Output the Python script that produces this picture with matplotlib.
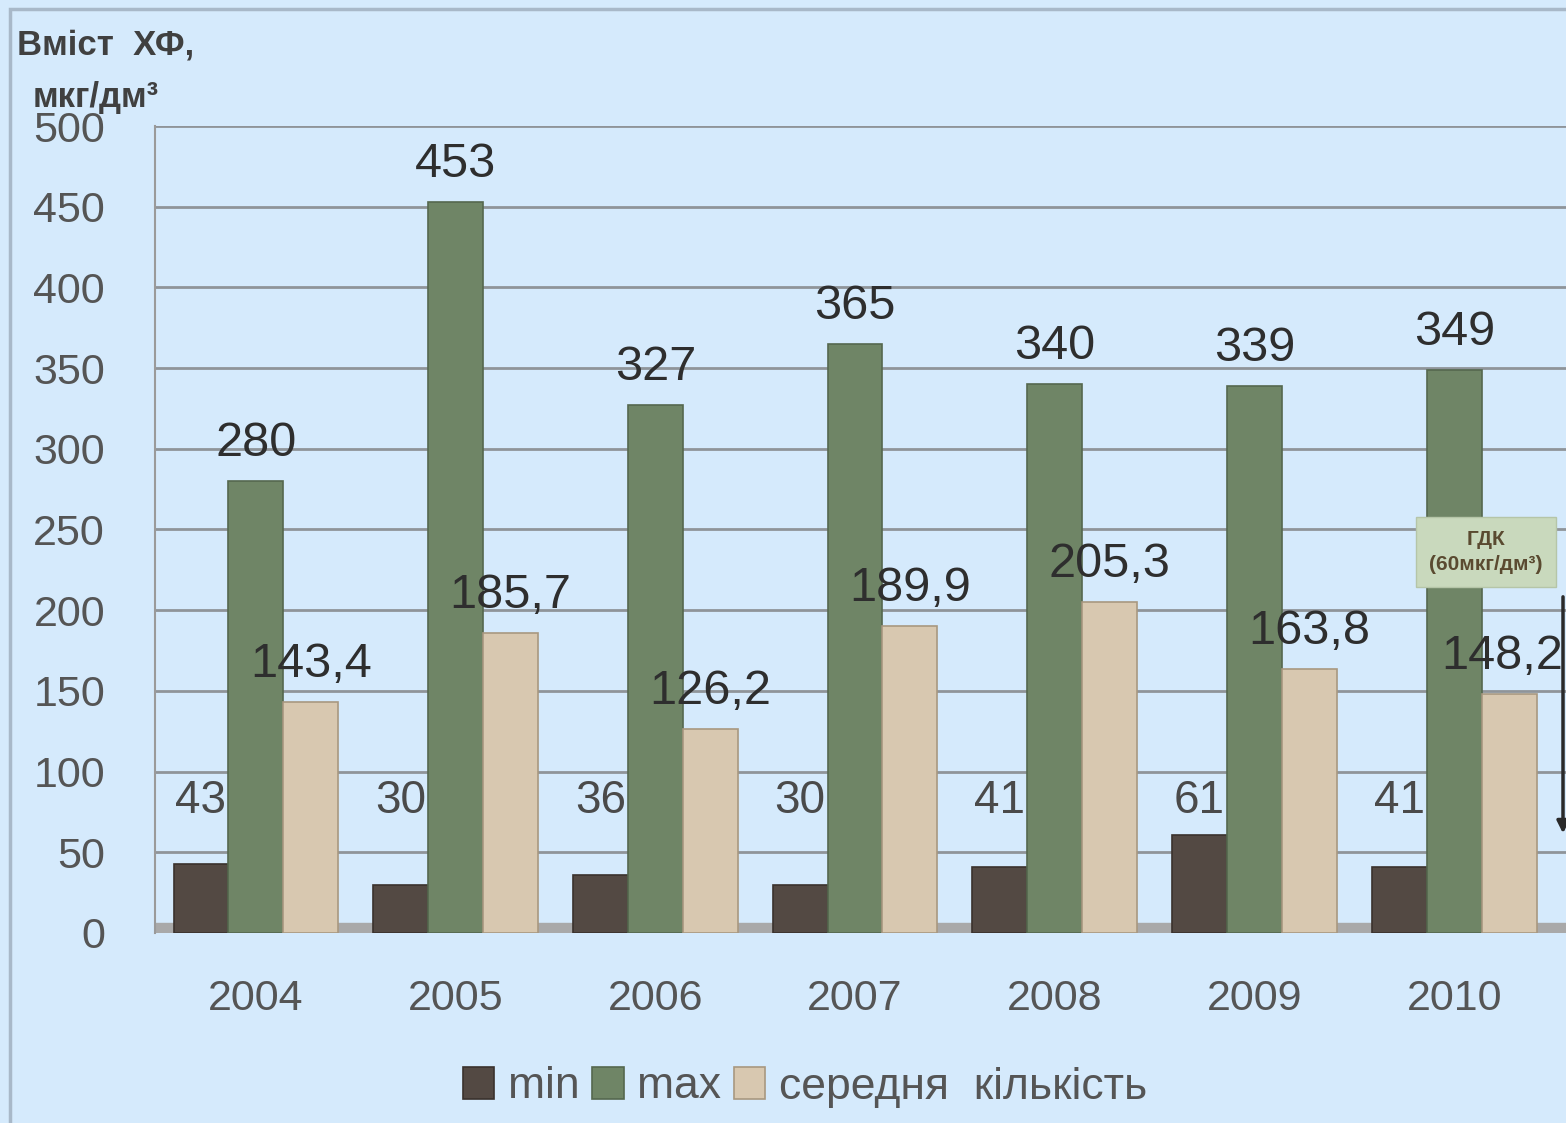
import numpy as np
import matplotlib.pyplot as plt
from matplotlib.patches import Rectangle

years = ['2004', '2005', '2006', '2007', '2008', '2009', '2010']
min_vals = [43, 30, 36, 30, 41, 61, 41]
max_vals = [280, 453, 327, 365, 340, 339, 349]
avg_vals = [143.4, 185.7, 126.2, 189.9, 205.3, 163.8, 148.2]
series_names = ['min', 'max', 'середня  кількість']
gdk_value = 60
gdk_label = 'ГДК\n(60мкг/дм³)'

bg = '#d5eafc'
colors = ['#534943', '#6f8566', '#d8c8b0']
edges = ['#3a322d', '#55684e', '#a89880']

plt.rcParams['font.family'] = ['Liberation Sans', 'DejaVu Sans']

fig = plt.figure(figsize=(15.66, 11.23), dpi=100, facecolor=bg)
ax = fig.add_axes([0.099, 0.1692, 0.901, 0.7186], facecolor=bg)

# outer chart frame (top and left edges visible)
fig.add_artist(Rectangle((10 / 1566, -0.1), 1.2, 1 - 9 / 1123 + 0.1,
                         transform=fig.transFigure, fill=False,
                         ec='#a8b8c8', lw=2.5))

x = np.arange(len(years))
w = 0.275
for i, (vals, c, ec, name) in enumerate(zip([min_vals, max_vals, avg_vals],
                                            colors, edges, series_names)):
    ax.bar(x + (i - 1) * w, vals, w, color=c, edgecolor=ec, lw=1.2,
           label=name, zorder=3)

# data labels
for xi, v in zip(x, min_vals):
    ax.text(xi - w, 82, f'{v}', ha='center', va='center', fontsize=33,
            color='#4a4a4a', zorder=5)
for xi, v in zip(x, max_vals):
    ax.annotate(f'{v}', (xi, v), xytext=(0, 27), textcoords='offset points',
                ha='center', va='center', fontsize=35, color='#2e2e2e', zorder=5)
for xi, v in zip(x, avg_vals):
    # last label sits at the right edge, nudge it in a little
    dx = -5 if xi == x[-1] else 0
    ax.annotate(f'{v}'.replace('.', ','), (xi + w, v), xytext=(dx, 27),
                textcoords='offset points', ha='center', va='center',
                fontsize=35, color='#2e2e2e', zorder=5)

ax.set_xlim(-0.505, 6.56)
ax.set_ylim(0, 500)
ax.set_yticks(np.arange(0, 501, 50))
ax.yaxis.grid(True, color='#8f9499', lw=2, zorder=0)
ax.set_axisbelow(True)
ax.set_xticks(x)
ax.set_xticklabels(years)
ax.tick_params(axis='both', length=0, labelsize=31, colors='#555555')
ax.tick_params(axis='x', pad=33)
ax.tick_params(axis='y', pad=36)
for s in ['top', 'right', 'bottom']:
    ax.spines[s].set_visible(False)
ax.spines['left'].set_color('#9a9a9a')
ax.spines['left'].set_linewidth(1.5)

# floor
ax.axhspan(0, 6, color='#a9a9a9', zorder=1)

# ГДК marker
ax.annotate('', xy=(6.545, gdk_value), xytext=(6.545, 210),
            arrowprops=dict(arrowstyle='-|>', color='#2a2a2a', lw=2.5,
                            mutation_scale=18), zorder=6)
ax.text(5.875, 236, gdk_label, ha='left', va='center', fontsize=15,
        fontweight='bold', color='#5a4a30', zorder=7, multialignment='center',
        linespacing=1.35,
        bbox=dict(boxstyle='square,pad=0.65', fc='#c9d9bd', ec='#b5c5a8'))

fig.text(17 / 1566, 1 - 45 / 1123, 'Вміст  ХФ,', fontsize=25, fontweight='bold',
         color='#404040', va='center', ha='left')
fig.text(33 / 1566, 1 - 97 / 1123, 'мкг/дм³', fontsize=25, fontweight='bold',
         color='#404040', va='center', ha='left')

fig.legend(loc='center', bbox_to_anchor=(805 / 1566, 1 - 1087 / 1123), ncol=3,
           frameon=False, fontsize=32, handlelength=0.7, handleheight=0.7,
           handletextpad=0.3, columnspacing=0.3, labelcolor='#555555')

fig.savefig('out.png', dpi=100, facecolor=bg)
